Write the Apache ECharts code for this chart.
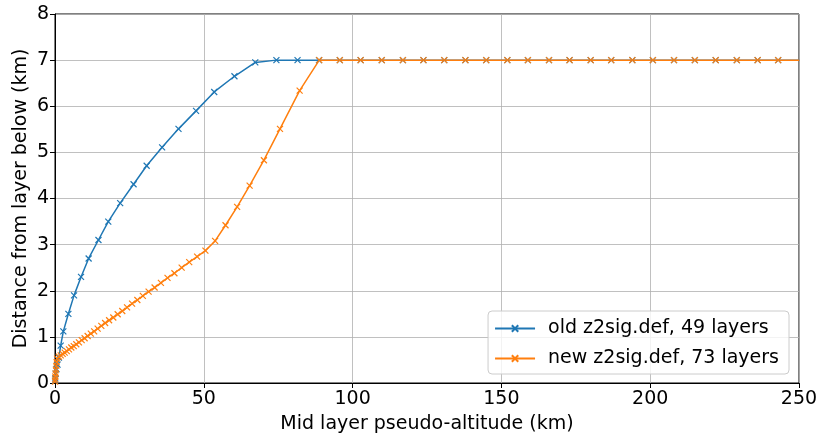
<!DOCTYPE html>
<html>
<head>
<meta charset="utf-8">
<script src="https://cdn.jsdelivr.net/npm/echarts@6/dist/echarts.min.js"></script>
<style>html,body{margin:0;padding:0;background:#fff}#c{width:817px;height:435px}</style>
</head>
<body>
<div id="c"></div>
<script>
// Old z2sig.def, 49 layers: mid-layer pseudo-altitude (km) and distance from layer below (km)
const oldAlt = [0.03, 0.1, 0.25, 0.5, 0.85, 1.3, 1.9, 2.8, 4.5, 6.4, 8.75, 11.3, 14.6, 17.9, 21.9, 26.4, 30.8, 36.0, 41.5, 47.4, 53.5, 60.3, 67.3,
  74.4, 81.5, 88.7, 95.7, 102.7, 109.8, 116.9, 123.8, 130.8, 137.9, 144.9, 152.0, 158.9, 166.0, 172.9, 180.0, 186.9, 194.0, 200.9, 208.0, 215.0, 222.0, 229.1, 236.1, 243.0, 250.1];
const oldDist = [0.05, 0.1, 0.2, 0.3, 0.4, 0.55, 0.81, 1.12, 1.5, 1.9, 2.3, 2.7, 3.1, 3.5, 3.9, 4.31, 4.71, 5.11, 5.51, 5.9, 6.31, 6.65, 6.95,
  7.0, 7.0, 7.0, 7.0, 7.0, 7.0, 7.0, 7.0, 7.0, 7.0, 7.0, 7.0, 7.0, 7.0, 7.0, 7.0, 7.0, 7.0, 7.0, 7.0, 7.0, 7.0, 7.0, 7.0, 7.0, 7.0];

// New z2sig.def, 73 layers
const newAlt = [0.02, 0.06, 0.12, 0.2, 0.3, 0.42, 0.55, 0.7,
  1.30, 1.92, 2.57, 3.25, 3.96, 4.70, 5.48, 6.30, 7.15, 8.04, 8.97, 9.95, 10.97, 12.04, 13.16, 14.33, 15.56, 16.84, 18.18, 19.59,
  21.06, 22.60, 24.21, 25.90, 27.67, 29.52, 31.45, 33.47, 35.59, 37.81, 40.13, 42.56, 45.10, 47.76, 50.54,
  53.8, 57.3, 61.2, 65.4, 70.2, 75.6, 82.2,
  88.8, 95.7, 102.7, 109.8, 116.9, 123.8, 130.8, 137.9, 144.9, 152.0, 158.9, 166.0, 172.9, 180.0, 186.9, 194.0, 200.9, 208.0, 215.0, 222.0, 229.1, 236.1, 243.0, 250.1];
const newDist = [0.03, 0.08, 0.14, 0.21, 0.29, 0.37, 0.45, 0.53,
  0.57, 0.60, 0.63, 0.66, 0.69, 0.73, 0.77, 0.80, 0.84, 0.88, 0.93, 0.97, 1.02, 1.07, 1.12, 1.18, 1.24, 1.30, 1.36, 1.42,
  1.49, 1.56, 1.64, 1.72, 1.80, 1.89, 1.98, 2.07, 2.17, 2.28, 2.38, 2.50, 2.62, 2.74, 2.87,
  3.08, 3.42, 3.82, 4.28, 4.83, 5.51, 6.34,
  7.0, 7.0, 7.0, 7.0, 7.0, 7.0, 7.0, 7.0, 7.0, 7.0, 7.0, 7.0, 7.0, 7.0, 7.0, 7.0, 7.0, 7.0, 7.0, 7.0, 7.0, 7.0, 7.0, 7.0];

const seriesNames = ['old z2sig.def, 49 layers', 'new z2sig.def, 73 layers'];
const xTicks = [0, 50, 100, 150, 200, 250];
const yTicks = [0, 1, 2, 3, 4, 5, 6, 7, 8];
const xTitle = 'Mid layer pseudo-altitude (km)';
const yTitle = 'Distance from layer below (km)';

const FONT = 'DejaVu Sans';
const FS = 19;
const X_SYMBOL = 'path://M0,0L10,10M10,0L0,10';

function pairs(xs, ys) { return xs.map((x, i) => [x, ys[i]]); }

function mkSeries(name, xs, ys, color) {
  return {
    name: name,
    type: 'line',
    data: pairs(xs, ys),
    symbol: X_SYMBOL,
    symbolSize: 6,
    showAllSymbol: true,
    clip: true,
    lineStyle: { color: color, width: 1.5 },
    itemStyle: { color: 'none', borderColor: color, borderWidth: 1.2 },
    emphasis: { disabled: true },
    animation: false
  };
}

const chart = echarts.init(document.getElementById('c'), null, { renderer: 'canvas' });
chart.setOption({
  animation: false,
  backgroundColor: '#fff',
  textStyle: { fontFamily: FONT },
  grid: { left: 55, right: 18, top: 14, bottom: 52, containLabel: false, outerBoundsMode: 'none',
    show: true, borderColor: '#000', borderWidth: 1, backgroundColor: 'transparent' },
  xAxis: {
    type: 'value', min: xTicks[0], max: xTicks[xTicks.length - 1], interval: 50,
    name: xTitle, nameLocation: 'middle', nameGap: 32, nameMoveOverlap: false,
    nameTextStyle: { fontFamily: FONT, fontSize: FS, color: '#000' },
    axisLine: { show: true, onZero: false, lineStyle: { color: '#000', width: 1 } },
    axisTick: { show: true, length: 5, inside: false, lineStyle: { color: '#000', width: 1 } },
    axisLabel: { fontFamily: FONT, fontSize: FS, color: '#000', margin: 7 },
    splitLine: { show: true, lineStyle: { color: '#b0b0b0', width: 0.8 } }
  },
  yAxis: {
    type: 'value', min: yTicks[0], max: yTicks[yTicks.length - 1], interval: 1,
    name: yTitle, nameLocation: 'middle', nameGap: 24, nameRotate: 90, nameMoveOverlap: false,
    nameTextStyle: { fontFamily: FONT, fontSize: FS, color: '#000' },
    axisLine: { show: true, onZero: false, lineStyle: { color: '#000', width: 1 } },
    axisTick: { show: true, length: 5, inside: false, lineStyle: { color: '#000', width: 1 } },
    axisLabel: { fontFamily: FONT, fontSize: FS, color: '#000', margin: 6 },
    splitLine: { show: true, lineStyle: { color: '#b0b0b0', width: 0.8 } }
  },
  legend: {
    right: 28, bottom: 61, orient: 'vertical',
    data: seriesNames,
    itemWidth: 40, itemHeight: 8, itemGap: 11,
    padding: [8, 10, 6, 6],
    backgroundColor: 'rgba(255,255,255,0.8)',
    borderColor: '#cccccc', borderWidth: 1, borderRadius: 4,
    textStyle: { fontFamily: FONT, fontSize: FS, color: '#000', padding: [0, 0, 0, 8] },
    selectedMode: false
  },
  series: [
    mkSeries(seriesNames[0], oldAlt, oldDist, '#1f77b4'),
    mkSeries(seriesNames[1], newAlt, newDist, '#ff7f0e')
  ]
});
</script>
</body>
</html>
